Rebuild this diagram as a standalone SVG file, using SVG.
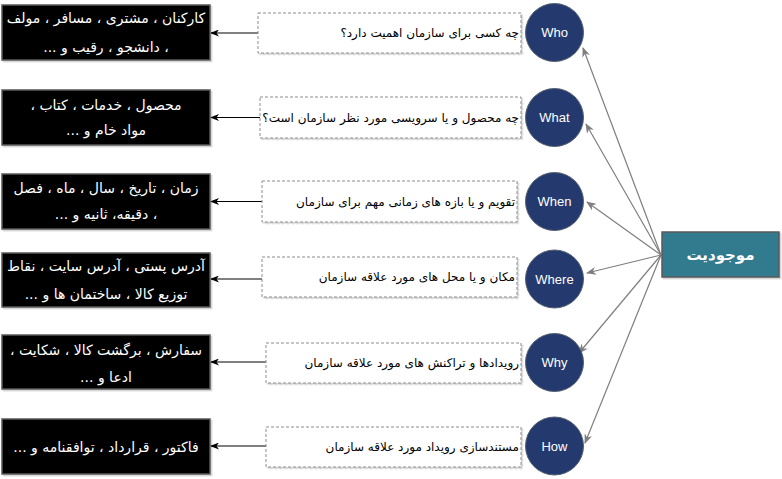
<svg xmlns="http://www.w3.org/2000/svg" width="782" height="479" viewBox="0 0 782 479">
<style>
.blk{fill:#000;stroke:#5a5a5a;stroke-width:1.5;filter:url(#sh)}
.q{fill:#fff;stroke:#8c8c8c;stroke-width:1;stroke-dasharray:3,2;filter:url(#sh)}
.c{fill:#243a6e;stroke:#55606e;stroke-width:1}
.bt{fill:#fff;font-family:"DejaVu Sans",sans-serif;font-size:14px;direction:rtl;text-anchor:middle}
.qt{fill:#000;font-family:"DejaVu Sans",sans-serif;font-size:12px;direction:rtl;text-anchor:start}
.ct{fill:#fff;font-family:"Liberation Sans",Arial,sans-serif;font-size:13px;text-anchor:middle}
.mt{fill:#fff;font-family:"DejaVu Sans",sans-serif;font-size:15px;font-weight:bold;direction:rtl;text-anchor:middle}
.ga{stroke:#7f7f7f;stroke-width:1.2;fill:none;marker-end:url(#ga)}
.ba{stroke:#000;stroke-width:1;fill:none;marker-end:url(#ba)}
</style>
<defs>
<filter id="sh" x="-5%" y="-10%" width="115%" height="130%"><feDropShadow dx="1.5" dy="1.5" stdDeviation="0.6" flood-color="#000" flood-opacity="0.18"/></filter>
<marker id="ga" markerWidth="10" markerHeight="8" refX="9" refY="4" orient="auto" markerUnits="userSpaceOnUse"><path d="M0,0 L10,4 L0,8 L3,4 z" fill="#7f7f7f"/></marker>
<marker id="ba" markerWidth="9" markerHeight="7" refX="8" refY="3.5" orient="auto" markerUnits="userSpaceOnUse"><path d="M0,0 L9,3.5 L0,7 L2.5,3.5 z" fill="#000"/></marker>
</defs>
<g id="connectors">
<line class="ga" x1="661" y1="255" x2="583" y2="48"/>
<line class="ga" x1="661" y1="255" x2="586" y2="124"/>
<line class="ga" x1="661" y1="255" x2="587" y2="202"/>
<line class="ga" x1="661" y1="255" x2="587" y2="273"/>
<line class="ga" x1="661" y1="255" x2="579" y2="353"/>
<line class="ga" x1="661" y1="255" x2="585" y2="443"/>
<line class="ba" x1="258" y1="33" x2="211" y2="33"/>
<line class="ba" x1="260" y1="117.5" x2="211" y2="117.5"/>
<line class="ba" x1="262" y1="201.5" x2="211" y2="201.5"/>
<line class="ba" x1="262" y1="279" x2="211" y2="279"/>
<line class="ba" x1="266" y1="362" x2="211" y2="362"/>
<line class="ba" x1="266" y1="446" x2="211" y2="446"/>
</g>
<g id="entity">
<rect x="662" y="232" width="117" height="45" fill="#327a8e" stroke="#5a5a5a" stroke-width="1.5" filter="url(#sh)"/>
<text class="mt" x="720.5" y="260">موجودیت</text>
</g>
<g id="who">
<circle class="c" cx="554.5" cy="32.5" r="29"/>
<text class="ct" x="554.5" y="37">Who</text>
</g>
<g id="what">
<circle class="c" cx="554.5" cy="117.5" r="29"/>
<text class="ct" x="554.5" y="122">What</text>
</g>
<g id="when">
<circle class="c" cx="554.5" cy="201.5" r="29"/>
<text class="ct" x="554.5" y="206">When</text>
</g>
<g id="where">
<circle class="c" cx="554.5" cy="279" r="29"/>
<text class="ct" x="554.5" y="283.5">Where</text>
</g>
<g id="why">
<circle class="c" cx="554.5" cy="362.5" r="29"/>
<text class="ct" x="554.5" y="367">Why</text>
</g>
<g id="how">
<circle class="c" cx="554.5" cy="446" r="29"/>
<text class="ct" x="554.5" y="450.5">How</text>
</g>
<g id="q-who">
<rect class="q" x="258" y="13" width="263" height="40"/>
<text class="qt" x="519" y="37">چه کسی برای سازمان اهمیت دارد؟</text>
</g>
<g id="q-what">
<rect class="q" x="260" y="97" width="261" height="41"/>
<text class="qt" x="519" y="121.5">چه محصول و یا سرویسی مورد نظر سازمان است؟</text>
</g>
<g id="q-when">
<rect class="q" x="262" y="181" width="255" height="41"/>
<text class="qt" x="515" y="205.5">تقویم و یا بازه های زمانی مهم برای سازمان</text>
</g>
<g id="q-where">
<rect class="q" x="262" y="257" width="255" height="40"/>
<text class="qt" x="515" y="281">مکان و یا محل های مورد علاقه سازمان</text>
</g>
<g id="q-why">
<rect class="q" x="266" y="343" width="255" height="40"/>
<text class="qt" x="519" y="366.5">رویدادها و تراکنش های مورد علاقه سازمان</text>
</g>
<g id="q-how">
<rect class="q" x="266" y="427" width="255" height="40"/>
<text class="qt" x="519" y="450.5">مستندسازی رویداد مورد علاقه سازمان</text>
</g>
<g id="a-who">
<rect class="blk" x="2" y="5" width="208" height="55"/>
<text class="bt" x="106" y="23">کارکنان ، مشتری ، مسافر ، مولف</text>
<text class="bt" x="106" y="52">، دانشجو ، رقیب و ...</text>
</g>
<g id="a-what">
<rect class="blk" x="2" y="90" width="208" height="55"/>
<text class="bt" x="106" y="110">محصول ، خدمات ، کتاب ،</text>
<text class="bt" x="106" y="135">مواد خام و ...</text>
</g>
<g id="a-when">
<rect class="blk" x="2" y="174" width="208" height="55"/>
<text class="bt" x="106" y="193">زمان ، تاریخ ، سال ، ماه ، فصل</text>
<text class="bt" x="106" y="219">، دقیقه، ثانیه و ...</text>
</g>
<g id="a-where">
<rect class="blk" x="2" y="253" width="208" height="54"/>
<text class="bt" x="106" y="271">آدرس پستی ، آدرس سایت ، نقاط</text>
<text class="bt" x="106" y="299">توزیع کالا ، ساختمان ها و ...</text>
</g>
<g id="a-why">
<rect class="blk" x="2" y="335" width="208" height="54"/>
<text class="bt" x="106" y="355">سفارش ، برگشت کالا ، شکایت ،</text>
<text class="bt" x="106" y="382">ادعا و ...</text>
</g>
<g id="a-how">
<rect class="blk" x="2" y="419" width="208" height="55"/>
<text class="bt" x="106" y="452">فاکتور ، قرارداد ، توافقنامه و ...</text>
</g>
</svg>
